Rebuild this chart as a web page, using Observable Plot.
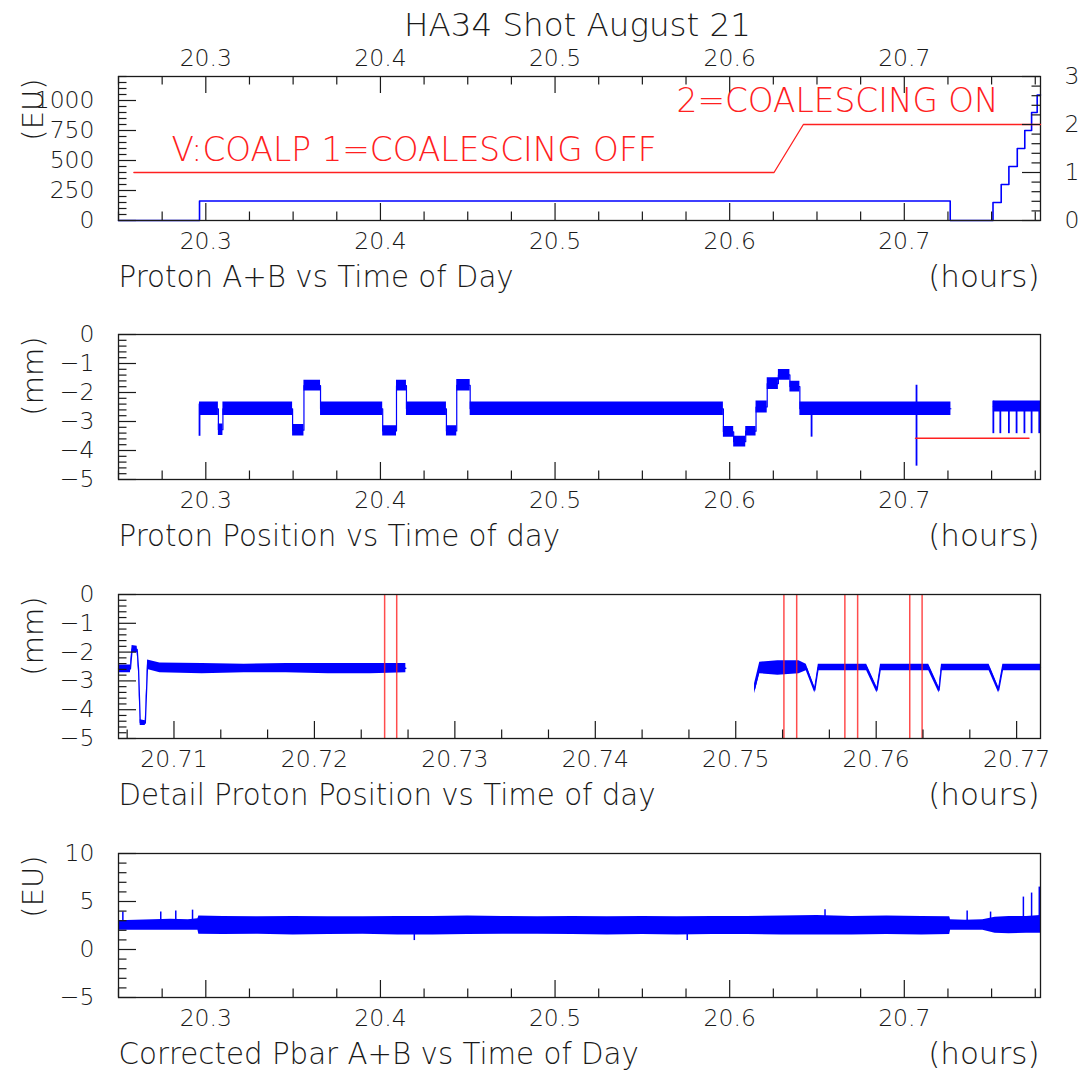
<!DOCTYPE html>
<html>
<head>
<meta charset="utf-8">
<script src="https://cdn.jsdelivr.net/npm/d3@7"></script>
<script src="https://cdn.jsdelivr.net/npm/@observablehq/plot@0.6"></script>
<style>
  html, body { margin: 0; padding: 0; background: #fff; overflow: hidden; }
  #wrap { position: relative; width: 1081px; height: 1072px; background: #fff; overflow: hidden; }
</style>
</head>
<body>
<div id="wrap"></div>
<script>
// ---------------- DATA ----------------
const titleText = "HA34 Shot August 21";
const captions = ["Proton A+B vs Time of Day", "Proton Position vs Time of day", "Detail Proton Position vs Time of day", "Corrected Pbar A+B vs Time of Day"];
const unitText = "(hours)";
const yTitles = ["(EU)", "(mm)", "(mm)", "(EU)"];

// Panel 1: Proton A+B (step series)
const protonTime = [20.25, 20.2964, 20.7263, 20.7508, 20.7555, 20.7599, 20.7647, 20.7690, 20.7729, 20.7761, 20.778];
const protonSum  = [0, 162, 0, 150, 300, 450, 600, 750, 900, 1045, 1045];
// V:COALP (right axis)
const coalTime  = [20.2588, 20.6254, 20.6422, 20.778];
const coalValue = [1, 1, 2, 2];
const coalLabels = ["V:COALP 1=COALESCING OFF", "2=COALESCING ON"];
const coalLabelTime = [20.2804, 20.5696];
const coalLabelValue = [1.24, 2.27];

// Panel 2: proton position plateaus (band low / high, step-after)
const posTime = [20.2964, 20.3072, 20.3098, 20.3497, 20.3562, 20.3657, 20.4013, 20.4092, 20.4149, 20.4378, 20.4437, 20.4514, 20.5964, 20.6023, 20.6092, 20.6151, 20.6215, 20.6279, 20.6345, 20.6402, 20.7267, 20.74, 20.7510, 20.7780];
const posLow  = [-2.79, -3.48, -2.79, -3.50, -1.95, -2.79, -3.50, -1.95, -2.79, -3.50, -1.95, -2.79, -3.54, -3.88, -3.50, -2.71, -1.90, -1.58, -1.98, -2.79, -2.79, NaN, -2.67, -2.67];
const posHigh = [-2.33, -3.09, -2.33, -3.10, -1.58, -2.33, -3.15, -1.58, -2.33, -3.15, -1.55, -2.33, -3.17, -3.51, -3.17, -2.29, -1.49, -1.21, -1.61, -2.33, -2.33, NaN, -2.29, -2.29];
const posSpikeTime = [20.2964, 20.6469, 20.7070, 20.7510, 20.7550, 20.7599, 20.7643, 20.7688, 20.7729, 20.7773];
const posSpikeLow  = [-3.51, -3.54, -4.54, -3.42, -3.42, -3.42, -3.42, -3.42, -3.42, -3.42];
const posSpikeHigh = [-2.40, -2.60, -1.75, -2.30, -2.35, -2.35, -2.35, -2.35, -2.35, -2.35];
const refTime  = [20.7064, 20.7714];
const refValue = [-3.58, -3.58];

// Panel 3: detail proton position (band low / high)
const detTime = [20.70605, 20.70690, 20.70702, 20.70738, 20.70748, 20.70760, 20.70796, 20.70812, 20.70900, 20.7120, 20.7150, 20.7180, 20.7210, 20.7240, 20.72651, 20.74,
                 20.75134, 20.75171, 20.7530, 20.7545, 20.75502, 20.75563, 20.75588, 20.75932, 20.76006, 20.76031, 20.76374, 20.76448, 20.76465, 20.76804, 20.76872, 20.76902, 20.7717];
const detLow  = [-2.72, -2.72, -2.02, -2.02, -2.72, -4.55, -4.55, -2.60, -2.72, -2.75, -2.72, -2.72, -2.75, -2.75, -2.72, NaN,
                 -3.45, -2.75, -2.80, -2.75, -2.65, -3.42, -2.65, -2.65, -3.42, -2.65, -2.65, -3.42, -2.65, -2.65, -3.42, -2.65, -2.65];
const detHigh = [-2.45, -2.45, -1.77, -1.80, -2.50, -4.35, -4.38, -2.27, -2.38, -2.40, -2.42, -2.40, -2.40, -2.40, -2.40, NaN,
                 -3.10, -2.35, -2.30, -2.30, -2.42, -3.22, -2.42, -2.42, -3.22, -2.42, -2.42, -3.22, -2.42, -2.42, -3.22, -2.42, -2.42];
const gateTime = [20.7250, 20.72586, 20.75343, 20.75434, 20.75777, 20.75868, 20.76239, 20.76327];

// Panel 4: corrected pbar (band envelope)
const pbarTime = [20.25, 20.26, 20.27, 20.28, 20.29, 20.2955, 20.2960, 20.31, 20.33, 20.35, 20.37, 20.39, 20.41, 20.43, 20.45, 20.47, 20.49, 20.51, 20.53, 20.55, 20.57, 20.59, 20.61, 20.63, 20.65, 20.67, 20.69, 20.71, 20.7260, 20.7265, 20.735, 20.745, 20.752, 20.76, 20.77, 20.778];
const pbarLow  = [2.0, 2.0, 2.0, 2.0, 2.0, 2.0, 1.6, 1.55, 1.6, 1.5, 1.55, 1.6, 1.5, 1.5, 1.55, 1.6, 1.6, 1.55, 1.5, 1.55, 1.5, 1.55, 1.55, 1.5, 1.5, 1.5, 1.55, 1.5, 1.55, 2.0, 2.0, 2.0, 1.7, 1.65, 1.7, 1.7];
const pbarHigh = [3.0, 3.05, 3.1, 3.15, 3.1, 3.2, 3.5, 3.45, 3.4, 3.45, 3.4, 3.4, 3.45, 3.45, 3.5, 3.45, 3.4, 3.45, 3.4, 3.45, 3.4, 3.45, 3.45, 3.5, 3.55, 3.45, 3.5, 3.45, 3.4, 3.1, 3.05, 3.1, 3.35, 3.45, 3.45, 3.55];
const pbarSpikeTime = [20.2525, 20.2742, 20.2828, 20.2924, 20.4194, 20.5757, 20.6546, 20.7360, 20.7494, 20.7682, 20.7729, 20.7773];
const pbarSpikeLow  = [2.5, 2.5, 2.5, 2.5, 0.93, 0.93, 2.5, 2.5, 2.5, 2.5, 2.5, 2.5];
const pbarSpikeHigh = [3.9, 3.9, 4.0, 4.1, 2.5, 2.5, 4.14, 4.0, 3.9, 5.46, 5.88, 6.5];

// Axis ticks
const hourTicks = [20.3, 20.4, 20.5, 20.6, 20.7];
const detailTicks = [20.71, 20.72, 20.73, 20.74, 20.75, 20.76, 20.77];
const euTicks = [0, 250, 500, 750, 1000];
const coalTicks = [0, 1, 2, 3];
const mmTicks = [-5, -4, -3, -2, -1, 0];
const pbarTicks = [-5, 0, 5, 10];

const hourDomain = [20.25, 20.778];
const detailDomain = [20.70605, 20.7717];

// ---------------- LAYOUT / STYLE ----------------
const W = 1081, ML = 118, MR = 41, FW = W - ML - MR;
const ink = "#1a1a1a", blue = "#0000ff", red = "#ff2020";
const FONT = '"DejaVu Sans", "Noto Sans", sans-serif';
const wrap = document.getElementById("wrap");

function steps(start, stop, step, skipEvery) {
  const out = [];
  const n = Math.round((stop - start) / step);
  for (let k = 0; k <= n; k++) {
    if (skipEvery && k % skipEvery === 0) continue;
    out.push(+(start + k * step).toFixed(7));
  }
  return out;
}
const within = (arr, [a, b]) => arr.filter(v => v >= a - 1e-9 && v <= b + 1e-9);

const hourMinor = steps(20.25, 20.775, 0.025, 0).filter(v => !hourTicks.some(t => Math.abs(t - v) < 1e-6));
const detailMinor = within(steps(20.70, 20.78, 0.01 / 3, 3), detailDomain);
const euMinor = steps(0, 1200, 50, 5);
const coalMinor = steps(0, 3, 0.2, 5);
const mmMinor = steps(-5, 0, 0.2, 5);
const pbarMinor = steps(-5, 10, 1, 5);

function xTickMarks(major, minor, FH, {bottom = true, top = false} = {}) {
  const m = [];
  if (bottom) m.push(
    Plot.ruleX(major, {x: d => d, insetTop: FH - 17, stroke: ink, strokeWidth: 1.2}),
    Plot.ruleX(minor, {x: d => d, insetTop: FH - 8.5, stroke: ink, strokeWidth: 1.2}));
  if (top) m.push(
    Plot.ruleX(major, {x: d => d, insetBottom: FH - 17, stroke: ink, strokeWidth: 1.2}),
    Plot.ruleX(minor, {x: d => d, insetBottom: FH - 8.5, stroke: ink, strokeWidth: 1.2}));
  return m;
}
function yTickMarks(major, minor, {left = true, right = false} = {}) {
  const m = [];
  if (left) m.push(
    Plot.ruleY(major, {y: d => d, insetRight: FW - 18, stroke: ink, strokeWidth: 1.2}),
    Plot.ruleY(minor, {y: d => d, insetRight: FW - 8.5, stroke: ink, strokeWidth: 1.2}));
  if (right) m.push(
    Plot.ruleY(major, {y: d => d, insetLeft: FW - 18, stroke: ink, strokeWidth: 1.2}),
    Plot.ruleY(minor, {y: d => d, insetLeft: FW - 8.5, stroke: ink, strokeWidth: 1.2}));
  return m;
}
function labelMarks(caption, yTitle) {
  return [
    Plot.text([caption], {text: d => d, frameAnchor: "bottom-left", textAnchor: "start", lineAnchor: "bottom", dx: 0, dy: 66.5, fontSize: 29.3, fill: ink}),
    Plot.text([unitText], {text: d => d, frameAnchor: "bottom-right", textAnchor: "end", lineAnchor: "bottom", dx: -1, dy: 66.5, fontSize: 31, fill: ink}),
    Plot.text([yTitle], {text: d => d, frameAnchor: "top-left", textAnchor: "end", lineAnchor: "bottom", rotate: -90, dx: -76, dy: 2, fontSize: 29, fill: ink})
  ];
}
function xLabels(ticks, anchor = "bottom") {
  return Plot.axisX({anchor, ticks, tickSize: 0, tickPadding: anchor === "bottom" ? 12 : 11, fontSize: 23.5, fill: ink, label: null, tickFormat: d => String(d)});
}
function yLabels(ticks, anchor = "left") {
  return Plot.axisY({anchor, ticks, tickSize: 0, tickPadding: 24, fontSize: 23.5, fill: ink, label: null, tickFormat: d => d3.format("")(d).replace("-", "\u2212")});
}

function makePanel({top, height, mt, mb, xDomain, yDomain, marks, transparent = false}) {
  const svg = Plot.plot({
    width: W, height,
    marginLeft: ML, marginRight: MR, marginTop: mt, marginBottom: mb,
    x: {domain: xDomain, axis: null},
    y: {domain: yDomain, axis: null},
    style: {fontFamily: FONT, fontWeight: 200, background: transparent ? "transparent" : "white", color: ink, overflow: "visible"},
    marks
  });
  svg.style.position = "absolute";
  svg.style.left = "0px";
  svg.style.top = top + "px";
  svg.style.maxWidth = "none";
  wrap.append(svg);
}

// ---------------- PANEL 1 ----------------
{
  const H = 300, mt = 76, mb = 80, FH = H - mt - mb;
  const idx = d3.range(protonTime.length);
  makePanel({
    top: 0, height: H, mt, mb, xDomain: hourDomain, yDomain: [0, 1200],
    marks: [
      Plot.line(idx, {x: i => protonTime[i], y: i => protonSum[i], curve: "step-after", stroke: blue, strokeWidth: 1.6}),
      ...xTickMarks(hourTicks, hourMinor, FH, {bottom: true, top: true}),
      ...yTickMarks(euTicks, euMinor),
      xLabels(hourTicks, "bottom"),
      xLabels(hourTicks, "top"),
      yLabels(euTicks, "left"),
      Plot.text([titleText], {text: d => d, frameAnchor: "top", lineAnchor: "bottom", dx: -2, dy: -41, fontSize: 32.5, fill: ink}),
      ...labelMarks(captions[0], yTitles[0]),
      Plot.frame({stroke: ink, strokeWidth: 1.3})
    ]
  });
  const cidx = d3.range(coalTime.length);
  const lidx = d3.range(coalLabels.length);
  makePanel({
    top: 0, height: H, mt, mb, xDomain: hourDomain, yDomain: [0, 3], transparent: true,
    marks: [
      Plot.line(cidx, {x: i => coalTime[i], y: i => coalValue[i], stroke: red, strokeWidth: 1.3}),
      Plot.text(lidx, {x: i => coalLabelTime[i], y: i => coalLabelValue[i], text: i => coalLabels[i], textAnchor: "start", lineAnchor: "bottom", fontSize: 32.8, fill: red}),
      ...yTickMarks(coalTicks, coalMinor, {left: false, right: true}),
      yLabels(coalTicks, "right")
    ]
  });
}

// ---------------- PANEL 2 ----------------
{
  const H = 260, mt = 34, mb = 81, FH = H - mt - mb;
  const idx = d3.range(posTime.length);
  const sidx = d3.range(posSpikeTime.length);
  makePanel({
    top: 300, height: H, mt, mb, xDomain: hourDomain, yDomain: [-5, 0],
    marks: [
      Plot.areaY(idx, {x: i => posTime[i], y1: i => posLow[i], y2: i => posHigh[i], curve: "step-after", fill: blue}),
      Plot.lineY(idx, {x: i => posTime[i], y: i => (posLow[i] + posHigh[i]) / 2, curve: "step-after", stroke: blue, strokeWidth: 1.2}),
      Plot.ruleX(sidx, {x: i => posSpikeTime[i], y1: i => posSpikeLow[i], y2: i => posSpikeHigh[i], stroke: blue, strokeWidth: 1.8}),
      Plot.line(d3.range(refTime.length), {x: i => refTime[i], y: i => refValue[i], stroke: red, strokeWidth: 1.4}),
      ...xTickMarks(hourTicks, hourMinor, FH),
      ...yTickMarks(mmTicks, mmMinor),
      xLabels(hourTicks, "bottom"),
      yLabels(mmTicks, "left"),
      ...labelMarks(captions[1], yTitles[1]),
      Plot.frame({stroke: ink, strokeWidth: 1.3})
    ]
  });
}

// ---------------- PANEL 3 ----------------
{
  const H = 260, mt = 34, mb = 82, FH = H - mt - mb;
  const idx = d3.range(detTime.length);
  makePanel({
    top: 560, height: H, mt, mb, xDomain: detailDomain, yDomain: [-5, 0],
    marks: [
      Plot.areaY(idx, {x: i => detTime[i], y1: i => detLow[i], y2: i => detHigh[i], fill: blue}),
      Plot.lineY(idx, {x: i => detTime[i], y: i => (detLow[i] + detHigh[i]) / 2, stroke: blue, strokeWidth: 1.3}),
      Plot.ruleX(gateTime, {x: d => d, stroke: red, strokeWidth: 1.5, strokeOpacity: 0.8}),
      ...xTickMarks(detailTicks, detailMinor, FH),
      ...yTickMarks(mmTicks, mmMinor),
      xLabels(detailTicks, "bottom"),
      yLabels(mmTicks, "left"),
      ...labelMarks(captions[2], yTitles[2]),
      Plot.frame({stroke: ink, strokeWidth: 1.3})
    ]
  });
}

// ---------------- PANEL 4 ----------------
{
  const H = 252, mt = 33, mb = 75, FH = H - mt - mb;
  const idx = d3.range(pbarTime.length);
  const sidx = d3.range(pbarSpikeTime.length);
  makePanel({
    top: 820, height: H, mt, mb, xDomain: hourDomain, yDomain: [-5, 10],
    marks: [
      Plot.areaY(idx, {x: i => pbarTime[i], y1: i => pbarLow[i], y2: i => pbarHigh[i], fill: blue}),
      Plot.ruleX(sidx, {x: i => pbarSpikeTime[i], y1: i => pbarSpikeLow[i], y2: i => pbarSpikeHigh[i], stroke: blue, strokeWidth: 1.5}),
      ...xTickMarks(hourTicks, hourMinor, FH),
      ...yTickMarks(pbarTicks, pbarMinor),
      xLabels(hourTicks, "bottom"),
      yLabels(pbarTicks, "left"),
      ...labelMarks(captions[3], yTitles[3]),
      Plot.frame({stroke: ink, strokeWidth: 1.3})
    ]
  });
}
</script>
</body>
</html>
